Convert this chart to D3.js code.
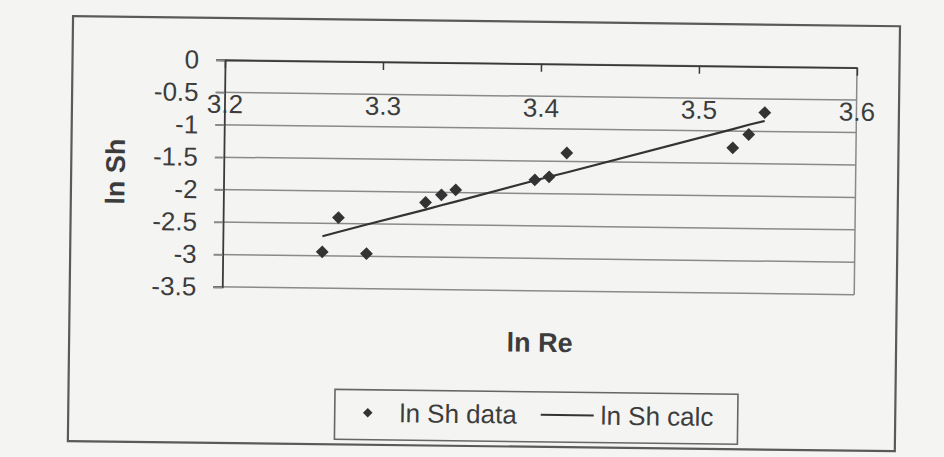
<!DOCTYPE html>
<html>
<head>
<meta charset="utf-8">
<script src="https://cdn.jsdelivr.net/npm/d3@7"></script>
<style>
  html, body { margin: 0; padding: 0; background: #f4f4f2; }
  svg { display: block; }
  text { font-family: "Liberation Sans", Arial, sans-serif; fill: #3c3c3c; }
</style>
</head>
<body>
<svg id="chart" width="944" height="457"></svg>
<script>
// ---- data ----
const lnRe      = [3.263, 3.273, 3.291, 3.328, 3.338, 3.347, 3.397, 3.406, 3.417, 3.522, 3.532, 3.542];
const lnShData  = [-2.94, -2.41, -2.96, -2.16, -2.04, -1.96, -1.79, -1.74, -1.37, -1.26, -1.05, -0.71];
const lnShCalc  = [-2.70, -2.63, -2.51, -2.27, -2.20, -2.14, -1.80, -1.74, -1.67, -0.97, -0.90, -0.84];
const xTicks = [3.2, 3.3, 3.4, 3.5, 3.6];
const yTicks = [0, -0.5, -1, -1.5, -2, -2.5, -3, -3.5];
const xTitle = "ln Re";
const yTitle = "ln Sh";
const legendLabels = ["ln Sh data", "ln Sh calc"];

// ---- layout ----
const W = 944, H = 457;
const plot = { left: 223, right: 855, top: 63, bottom: 290 };
const ink = "#3a3a3a", grid = "#8a8a8a";

const svg = d3.select("#chart");
svg.append("rect").attr("width", W).attr("height", H).attr("fill", "#f4f4f2");

// slight scan tilt of the whole sheet
const g = svg.append("g").attr("transform", "rotate(0.7 472 228)");

// outer chart frame
g.append("rect")
  .attr("x", 70.5).attr("y", 21).attr("width", 827).attr("height", 425)
  .attr("fill", "none").attr("stroke", "#5a5a5a").attr("stroke-width", 2.2);

const x = d3.scaleLinear().domain([3.2, 3.6]).range([plot.left, plot.right]);
const y = d3.scaleLinear().domain([-3.5, 0]).range([plot.bottom, plot.top]);

// gridlines (extend to the outside tick length)
g.append("g").selectAll("line").data(yTicks).join("line")
  .attr("x1", plot.left - 9).attr("x2", plot.right)
  .attr("y1", d => y(d)).attr("y2", d => y(d))
  .attr("stroke", grid).attr("stroke-width", 1.5);

// right edge of plot area
g.append("line")
  .attr("x1", plot.right).attr("x2", plot.right)
  .attr("y1", plot.top).attr("y2", plot.bottom)
  .attr("stroke", grid).attr("stroke-width", 1.5);

// y axis
const yAxis = g.append("g")
  .attr("transform", `translate(${plot.left},0)`)
  .call(d3.axisLeft(y).tickValues(yTicks).tickFormat(d => String(d)).tickSize(9).tickPadding(17));
yAxis.select(".domain").attr("stroke", ink).attr("stroke-width", 1.8);
yAxis.selectAll(".tick line").attr("stroke", grid).attr("stroke-width", 1.5);
yAxis.selectAll("text").attr("font-size", 26).attr("fill", "#3c3c3c")
  .style("font-family", '"Liberation Sans", Arial, sans-serif');

// x axis (crosses at y = 0, i.e. the top of the plot)
const xAxis = g.append("g")
  .attr("transform", `translate(0,${plot.top})`)
  .call(d3.axisBottom(x).tickValues(xTicks).tickFormat(d => String(d)).tickSize(8).tickSizeOuter(0));
xAxis.select(".domain").attr("stroke", ink).attr("stroke-width", 1.8);
xAxis.selectAll(".tick line").attr("stroke", ink).attr("stroke-width", 1.5);
xAxis.selectAll("text").attr("font-size", 26).attr("fill", "#3c3c3c")
  .attr("dy", null).attr("y", 53)
  .style("font-family", '"Liberation Sans", Arial, sans-serif');

// regression line
const line = d3.line().x((d, i) => x(lnRe[i])).y(d => y(d));
g.append("path").datum(lnShCalc)
  .attr("d", line).attr("fill", "none")
  .attr("stroke", "#333").attr("stroke-width", 2.2);

// data points (diamonds)
const diamond = d3.symbol().type(d3.symbolSquare).size(82);
g.append("g").selectAll("path").data(lnShData).join("path")
  .attr("d", diamond)
  .attr("transform", (d, i) => `translate(${x(lnRe[i])},${y(d)}) rotate(45)`)
  .attr("fill", "#333");

// axis titles
g.append("text")
  .attr("x", 541).attr("y", 351)
  .attr("text-anchor", "middle")
  .attr("font-size", 27).attr("font-weight", "bold")
  .text(xTitle);
g.append("text")
  .attr("transform", "translate(124,176) rotate(-90)")
  .attr("text-anchor", "middle")
  .attr("font-size", 27).attr("font-weight", "bold")
  .text(yTitle);

// legend
const lg = g.append("g");
lg.append("rect")
  .attr("x", 337).attr("y", 391).attr("width", 403).attr("height", 50)
  .attr("fill", "none").attr("stroke", "#666").attr("stroke-width", 1.6);
lg.append("path")
  .attr("d", d3.symbol().type(d3.symbolSquare).size(46)())
  .attr("transform", "translate(370,414) rotate(45)")
  .attr("fill", "#333");
lg.append("text").attr("x", 402).attr("y", 423).attr("font-size", 26).text(legendLabels[0]);
lg.append("line")
  .attr("x1", 543).attr("x2", 596).attr("y1", 414).attr("y2", 414)
  .attr("stroke", "#333").attr("stroke-width", 2);
lg.append("text").attr("x", 603).attr("y", 423).attr("font-size", 26).text(legendLabels[1]);
</script>
</body>
</html>
